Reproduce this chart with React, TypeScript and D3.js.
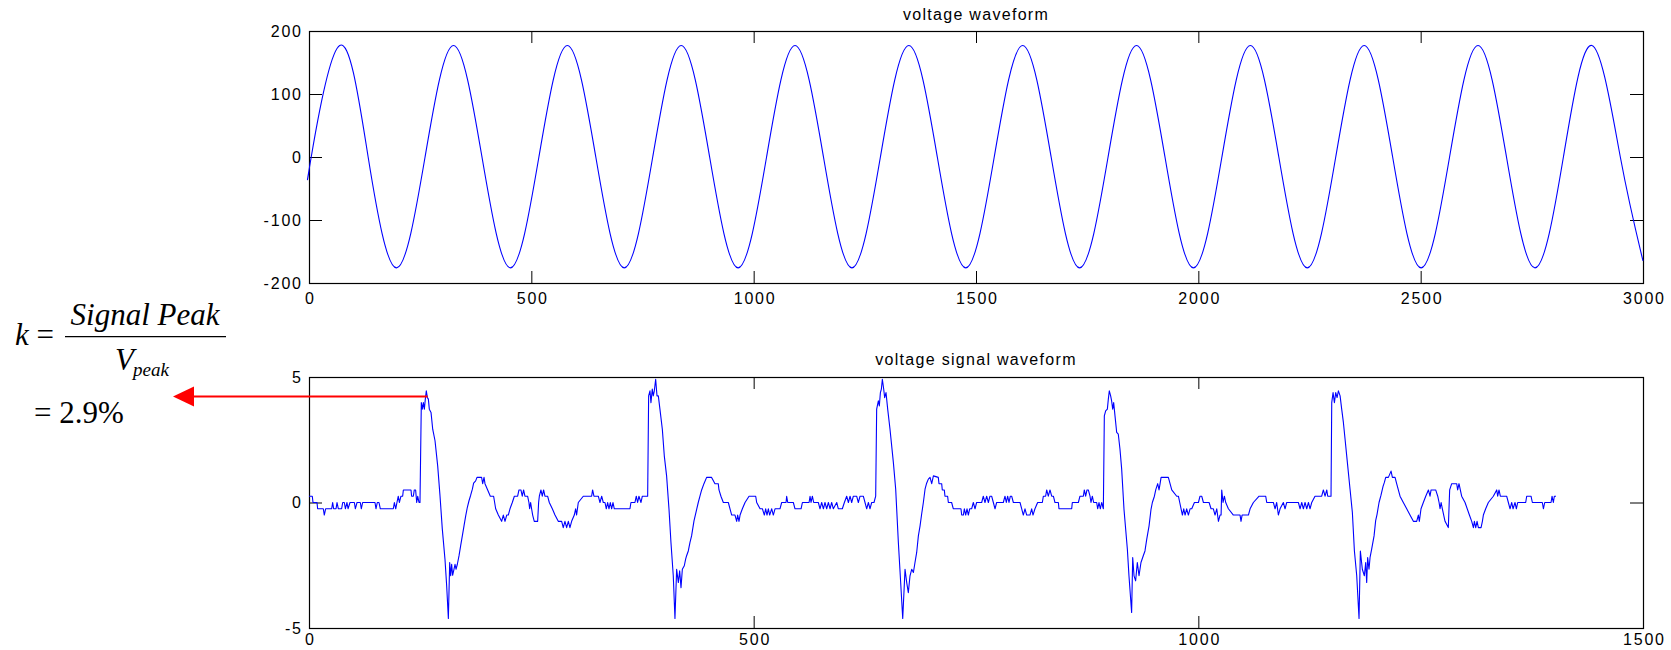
import { useEffect, useRef } from 'react';
import * as d3 from 'd3';

// top panel: mains voltage, read at the crests / zero crossings / troughs
const voltT = [0, 5, 69, 133, 197, 261, 325, 389, 453, 517, 581, 645, 709, 773, 837, 901, 965, 1029,
  1093, 1157, 1221, 1285, 1349, 1413, 1477, 1541, 1605, 1669, 1733, 1797, 1861, 1925, 1989, 2053,
  2117, 2181, 2245, 2309, 2373, 2437, 2501, 2565, 2629, 2693, 2757, 2821, 2885, 2949, 3000];
const voltV = [-23, 0, 177, 0, -176, 0, 177, 0, -176, 0, 177, 0, -176, 0, 177, 0, -176, 0,
  177, 0, -176, 0, 177, 0, -176, 0, 177, 0, -176, 0, 177, 0, -176, 0,
  177, 0, -176, 0, 177, 0, -176, 0, 177, 0, -176, 0, 177, 0, -165];
const voltXTicks = [0, 500, 1000, 1500, 2000, 2500, 3000];
const voltYTicks = [-200, -100, 0, 100, 200];

// bottom panel: quantised signal from the sensor
const sigT = [
  0, 3.7, 4.5, 9.0, 9.7, 16.1, 17.2, 18.7, 25.5, 26.6, 27.7, 30.4, 31.5, 33.0, 36.7, 37.9, 39.7, 40.9,
  42.7, 43.9, 46.1, 51.0, 52.1, 54.0, 57.7, 58.8, 60.3, 74.2, 75.3, 76.8, 78.7, 80.2, 94.8, 96.0,
  97.5, 98.9, 100.4, 101.6, 103.4, 105.3, 106.1, 114.7, 115.4, 117.3, 118.4, 119.9, 121.1, 122.2,
  123.7, 124.8, 126.3, 127.4, 128.6, 129.7, 130.8, 131.9, 133.1, 134.2, 135.3, 137.2, 139.1, 141.7,
  144.7, 147.3, 149.9, 152.9, 154.8, 156.7, 158.2, 159.3, 160.4, 161.5, 163.0, 164.2, 165.3, 166.8,
  168.7, 170.5, 172.4, 174.3, 176.2, 178.0, 179.9, 181.8, 183.7, 185.1, 187.4, 188.9, 194.1, 195.3,
  196.8, 197.9, 200.9, 203.9, 207.6, 209.9, 212.9, 216.6, 218.5, 220.4, 222.3, 224.1, 226.0, 228.6,
  230.9,
  234.6, 236.1, 238.3, 239.8, 241.3, 242.8, 245.8, 247.3, 248.1, 249.2, 250.3, 251.5, 253.3, 257.1,
  258.2, 259.0, 260.8, 262.3, 263.8, 265.3, 268.3, 270.2, 273.6, 276.6, 280.3, 284.1, 285.9, 287.8,
  289.7, 291.6, 293.4, 295.3, 298.3, 299.8, 300.9, 302.8, 308.4, 317.8, 318.9, 320.4, 325.3, 327.2,
  329.1, 330.9, 332.8, 334.3, 335.8, 337.3, 338.8, 340.3, 341.8, 343.3, 360.9, 362.0, 366.5, 368.0,
  369.5, 371.0, 373.3, 374.8, 380.8, 381.9, 383.4, 384.5, 386.0, 387.1, 388.3, 389.8, 391.3, 392.8,
  394.6, 397.3, 399.5, 402.1, 404.8, 407.0, 409.6, 411.5, 413.4, 415.3, 416.8, 418.3, 419.8, 422.0,
  423.5, 424.6, 426.5, 428.4, 430.2, 432.9, 435.9, 437.7, 439.6, 441.5, 444.1, 447.1, 452.7, 456.5,
  460.2, 461.0, 463.2, 465.9,
  471.5, 473.4, 475.3, 479.0, 480.9, 482.0, 483.5, 484.7, 487.3, 490.3, 494.8, 502.3, 503.4, 507.2,
  509.8, 512.0, 513.5, 515.0, 516.5, 518.0, 520.3, 522.1, 524.0, 529.6, 531.5, 536.4, 537.1, 538.3,
  544.6, 546.5, 553.3, 554.8, 562.3, 563.4, 564.5, 566.0, 567.5, 572.7, 574.6, 576.5, 578.4, 580.2,
  582.1, 584.0, 585.9, 587.7, 589.6, 593.4, 595.2, 599.7, 602.0, 604.6, 606.5, 608.4, 610.2, 612.1,
  615.8, 617.7, 619.6, 623.3, 625.2, 627.1, 629.0, 630.8, 632.7, 635.3, 637.2, 638.3, 640.2, 641.3,
  642.5, 643.6, 644.7, 646.2, 647.3, 648.8, 650.7, 653.3, 657.1, 659.7, 662.7, 665.3, 667.6, 670.2,
  672.1, 673.9, 675.8, 677.7, 679.6, 681.4, 683.3, 685.2, 687.1, 688.9, 690.8, 692.7, 694.5, 696.4,
  698.3, 700.2, 702.1,
  707.6, 708.4, 711.4, 712.1, 714.4, 715.1, 718.1, 718.9, 722.6, 724.5, 733.1, 733.9, 735.8, 736.9,
  738.4, 739.9, 741.4, 742.9, 745.1, 747.0, 748.9, 750.7, 756.4, 758.2, 760.1, 762.0, 763.9, 765.7,
  767.6, 769.5, 771.4, 773.2, 780.7, 782.6, 784.1, 785.6, 787.1, 788.6, 790.1, 792.0, 799.5, 801.4,
  803.2, 805.1, 807.0, 810.7, 812.6, 814.1, 816.3, 819.3, 824.6, 825.7, 828.3, 829.5, 831.3, 833.2,
  835.1, 837.0, 838.8, 842.6, 843.3, 857.6, 858.3, 865.1, 866.9, 870.7, 871.8, 873.3, 874.8, 876.3,
  878.2, 879.3, 880.8, 882.3, 885.7, 886.8, 888.3, 889.8, 891.3, 893.2, 894.3, 895.8, 897.7, 898.8,
  899.9, 901.4, 902.5, 903.7, 904.8, 906.3, 908.2, 910.0, 911.9, 913.8, 916.4, 920.2, 922.0, 925.0,
  926.2, 927.7, 929.5, 931.4, 933.3, 935.5, 938.1, 940.0,
  942.0, 944.6, 946.8, 948.3, 950.6, 952.1, 954.3, 955.8, 957.0, 958.1, 966.3, 968.2, 970.1, 975.7,
  977.6, 979.1, 980.6, 982.1, 983.6, 985.1, 986.9, 988.8, 990.7, 992.6, 995.6, 1000.1, 1001.9, 1003.8,
  1005.7, 1012.1, 1014.3, 1016.9, 1018.8, 1020.7, 1022.6, 1024.4, 1025.6, 1026.3, 1027.8, 1029.3,
  1030.8, 1033.8, 1039.4, 1046.9, 1048.0, 1049.2, 1056.3, 1058.2, 1061.9, 1068.3, 1075.8, 1076.9,
  1084.4, 1086.3, 1088.1, 1090.0, 1091.9, 1095.6, 1097.5, 1099.4, 1112.5, 1114.4, 1116.3, 1118.1,
  1120.0, 1121.9, 1123.8, 1125.6, 1127.5, 1131.2, 1138.7, 1140.6, 1142.5, 1144.4, 1145.5, 1149.2,
  1150.0, 1151.5, 1153.0, 1154.5, 1156.0, 1157.5, 1159.4, 1161.2, 1163.1, 1165.0, 1167.6, 1170.6,
  1173.2, 1175.5,
  1178.1, 1180.7, 1182.2, 1184.4, 1186.7, 1188.2, 1189.3, 1190.4, 1191.9, 1193.1, 1194.9, 1197.6,
  1199.4, 1200.9, 1203.2, 1205.4, 1207.7, 1209.2, 1210.7, 1213.7, 1216.7, 1218.2, 1221.2, 1223.0,
  1226.8, 1230.5, 1234.3, 1238.0, 1241.8, 1245.5, 1247.4, 1248.5, 1250.4, 1253.0, 1255.7, 1258.7,
  1260.5, 1261.7, 1266.9, 1269.2, 1270.7, 1271.8, 1273.0, 1274.4, 1277.4, 1281.1, 1282.6, 1284.9,
  1290.5, 1291.6, 1293.1, 1296.1, 1299.9, 1304.8, 1307.4, 1309.3, 1310.4, 1311.9, 1313.4, 1314.9,
  1317.9, 1319.4, 1320.5, 1323.1, 1326.1, 1331.7, 1335.5, 1336.6, 1338.1, 1339.6, 1346.7, 1348.6,
  1350.5, 1352.4, 1353.9, 1356.1, 1357.6, 1359.1, 1368.1, 1369.2, 1374.1, 1375.6, 1386.8, 1388.0,
  1389.5, 1396.6, 1397.7, 1399.2, 1400.3, 1402.2,
];
const sigV = [
  0.25, 0.25, 0, 0, -0.25, -0.25, -0.5, -0.25, -0.25, 0, -0.25, -0.25, 0, -0.25, -0.25, 0, 0, -0.25,
  0, -0.25, 0, 0, -0.25, 0, 0, -0.25, 0, 0, -0.25, 0, 0, -0.25, -0.25, 0,
  -0.25, 0, 0.25, 0, 0.25, 0.25, 0.5, 0.5, 0.25, 0.25, 0.5, 0.5, 0, 0.25,
  0, 0, 3.98, 3.72, 3.98, 3.72, 4.12, 4.45, 4.18, 4.12, 3.72, 3.59, 2.92, 2.46,
  1.46, 0.27, -1.06, -2.26, -3.32, -4.62, -2.39, -2.92, -2.46, -2.9, -2.66, -2.46, -2.66, -2.46,
  -2.12, -1.73, -1.33, -0.93, -0.53, -0.2, 0.07, 0.29, 0.53, 0.77, 0.86, 1.0, 1.0, 0.75,
  1.0, 0.75, 0.5, 0.25, 0.25, -0.25, -0.5, -0.75, -0.5, -0.75, -0.5, -0.5, -0.25, 0,
  0.25,
  0.25, 0.5, 0.5, 0.25, 0.5, 0.25, 0.25, 0, -0.25, 0, -0.25, -0.5, -0.75, -0.75,
  0, 0.25, 0.5, 0.25, 0.5, 0.25, 0.25, 0, -0.25, -0.5, -0.75, -0.75, -1.0, -0.75,
  -1.0, -0.75, -1.0, -0.75, -0.5, -0.25, -0.5, 0, 0.25, 0.25, 0.5, 0.25, 0.25, 0,
  0.25, 0, 0, -0.25, 0, -0.25, 0, -0.25, 0, -0.25, -0.25, 0, 0, 0.25,
  0, 0.25, 0, 0.25, 0.25, 4.25, 4.45, 3.98, 4.52, 4.25, 4.45, 4.91, 4.25, 4.25,
  3.72, 2.92, 1.86, 1.06, -0.27, -1.59, -2.92, -4.62, -2.66, -3.19, -2.72, -3.39, -2.66, -2.52,
  -2.26, -2.12, -1.93, -1.59, -1.33, -0.73, -0.27, 0, 0.25, 0.5, 0.75, 1.0, 1.0, 0.75,
  0.75, 0.5, 0.25, 0,
  0, -0.25, -0.5, -0.5, -0.75, -0.5, -0.75, -0.5, -0.25, 0, 0.25, 0.25, 0, -0.25,
  -0.25, -0.5, -0.25, -0.5, -0.25, -0.5, -0.25, -0.5, -0.25, -0.25, 0, 0, 0.25, 0,
  0, -0.25, -0.25, 0, 0, 0.25, 0, 0.25, 0, 0, -0.25, 0, -0.25, 0,
  -0.25, 0, -0.25, 0, -0.25, 0, -0.25, -0.25, 0, 0.25, 0, 0.25, 0, 0.25,
  0.25, 0, 0.25, 0.25, 0, -0.25, 0, -0.25, 0, 0, 0.25, 3.72, 4.05, 3.85,
  4.38, 4.52, 4.91, 4.52, 4.18, 4.38, 3.72, 2.92, 1.59, 0.53, -1.59, -3.19, -4.62, -2.66,
  -3.19, -3.59, -2.92, -2.66, -2.79, -2.39, -1.99, -1.33, -0.93, -0.46, 0, 0.53, 0.77, 0.93,
  1.0, 0.75, 1.06,
  1.0, 0.75, 0.75, 0.5, 0.5, 0.25, 0.25, 0, 0, -0.25, -0.25, -0.5, -0.5, -0.25,
  -0.5, -0.25, -0.5, -0.25, -0.25, 0, -0.25, 0, 0, 0.25, 0, 0.25, 0, 0.25,
  0.25, 0, -0.25, 0, 0, 0.25, 0, 0.25, 0, 0.25, 0.25, 0, 0, -0.25,
  -0.5, -0.25, -0.5, -0.5, -0.25, -0.5, -0.25, 0, 0, 0.25, 0.25, 0.5, 0.25, 0.5,
  0.25, 0.25, 0, 0, -0.25, -0.25, 0, 0, 0.25, 0.25, 0.5, 0.25, 0.5, 0.5,
  0.25, 0, 0.25, 0, 0, -0.25, 0, -0.25, 0, -0.25, 3.45, 3.65, 3.72, 4.12,
  4.45, 4.25, 4.05, 3.72, 3.98, 3.45, 2.79, 2.72, 2.12, 1.33, -0.27, -1.86, -2.92, -4.38,
  -2.19, -2.92, -3.12, -2.39, -2.92, -2.39, -2.12, -1.93,
  -1.46, -0.93, -0.27, 0, 0.25, 0.5, 0.75, 0.5, 0.75, 1.0, 1.0, 0.75, 0.5, 0.25,
  0.25, 0, -0.25, -0.5, -0.25, -0.5, -0.25, -0.5, -0.25, -0.25, 0, 0, 0.25, 0.25,
  0, 0, -0.25, -0.25, -0.5, -0.25, -0.75, -0.5, -0.5, 0.5, 0, 0.25,
  0, -0.25, -0.5, -0.5, -0.75, -0.5, -0.5, -0.25, 0, 0.25, 0.25, 0,
  0, -0.25, 0, -0.5, -0.25, 0, -0.25, 0, 0, -0.25, 0, -0.25,
  0, -0.25, 0, -0.25, 0, 0.25, 0.25, 0.5, 0.25, 0.5, 0.25, 0.25,
  3.98, 4.38, 3.98, 4.38, 4.18, 4.45, 4.25, 3.72, 3.19, 2.52, 1.59, 0.53,
  -0.4, -1.93,
  -2.92, -4.62, -1.93, -2.66, -2.92, -2.39, -3.19, -2.19, -2.66, -2.19, -1.86, -1.33,
  -0.72, -0.48, 0, 0.29, 0.64, 0.8, 1.0, 1.0, 1.25, 1.0, 1.0, 0.75,
  0.25, 0, -0.25, -0.5, -0.75, -0.75, -0.5, -0.75, -0.25, 0, 0.25, 0.5,
  0.25, 0.5, 0.5, 0.25, 0, -0.25, 0, -0.25, -0.75, -1.0, 0.5, 0.75,
  0.75, 0.5, 0.75, 0.25, 0, -0.5, -0.75, -1.0, -0.75, -1.0, -0.75, -1.0,
  -1.0, -0.75, -0.5, -0.25, 0, 0.25, 0.5, 0.25, 0.5, 0.25, 0.25, 0,
  -0.25, 0, -0.25, 0, -0.25, 0, 0, 0.25, 0.25, 0, 0, -0.25,
  0, 0, 0.25, 0, 0.25, 0.25,
];
const sigXTicks = [0, 500, 1000, 1500];
const sigYTicks = [-5, 0, 5];

// annotated peak of the first pulse (red arrow)
const peakT = 133.4;
const peakV = 4.22;

const SANS = '"Liberation Sans", Arial, Helvetica, sans-serif';
const SERIF = '"Liberation Serif", "Times New Roman", serif';
const LS = 1.8;

function drawPanel(root, cfg) {
  const { box, xDomain, yDomain, xTicks, yTicks, title, titleY, t, v, curve, xPad } = cfg;
  const x = d3.scaleLinear().domain(xDomain).range([box.left, box.right]);
  const y = d3.scaleLinear().domain(yDomain).range([box.bottom, box.top]);
  const g = root.append('g');
  const fmt = (d) => String(d);

  const styleAxis = (sel) => {
    sel.attr('font-size', 16).attr('font-family', SANS).attr('color', '#000');
    sel.select('.domain').remove();
    sel.selectAll('text').style('letter-spacing', `${LS}px`).attr('fill', '#000');
  };

  g.append('g')
    .attr('transform', `translate(0,${box.bottom})`)
    .call(d3.axisBottom(x).tickValues(xTicks).tickFormat(fmt).tickSize(-12).tickPadding(xPad))
    .call(styleAxis)
    .selectAll('text').attr('dx', `${LS / 2}px`);
  g.append('g')
    .attr('transform', `translate(0,${box.top})`)
    .call(d3.axisTop(x).tickValues(xTicks).tickSize(-12).tickFormat(() => ''))
    .call(styleAxis);
  g.append('g')
    .attr('transform', `translate(${box.left},0)`)
    .call(d3.axisLeft(y).tickValues(yTicks).tickFormat(fmt).tickSize(-13).tickPadding(8 - LS))
    .call(styleAxis);
  g.append('g')
    .attr('transform', `translate(${box.right},0)`)
    .call(d3.axisRight(y).tickValues(yTicks).tickSize(-13).tickFormat(() => ''))
    .call(styleAxis);

  g.append('rect')
    .attr('x', box.left + 0.5)
    .attr('y', box.top + 0.5)
    .attr('width', box.right - box.left)
    .attr('height', box.bottom - box.top)
    .attr('fill', 'none')
    .attr('stroke', '#000')
    .attr('stroke-width', 1.2);

  const line = d3.line()
    .x((d) => x(d[0]))
    .y((d) => y(d[1]))
    .curve(curve);
  g.append('path')
    .datum(d3.zip(t, v))
    .attr('d', line)
    .attr('fill', 'none')
    .attr('stroke', '#0000ff')
    .attr('stroke-width', 1.1)
    .attr('stroke-linejoin', 'round');

  g.append('text')
    .attr('x', (box.left + box.right) / 2)
    .attr('y', titleY)
    .attr('text-anchor', 'middle')
    .attr('font-family', SANS)
    .attr('font-size', 16)
    .style('letter-spacing', '1.3px')
    .text(title);

  return { x, y };
}

export default function App() {
  const svgRef = useRef(null);

  useEffect(() => {
    const svg = d3.select(svgRef.current);
    svg.selectAll('*').remove();

    drawPanel(svg, {
      box: { left: 309, right: 1643, top: 31, bottom: 283 },
      xDomain: [0, 3000],
      yDomain: [-200, 200],
      xTicks: voltXTicks,
      yTicks: voltYTicks,
      title: 'voltage waveform',
      titleY: 19.5,
      t: voltT,
      v: voltV,
      curve: d3.curveNatural,
      xPad: 10,
    });

    const sig = drawPanel(svg, {
      box: { left: 309, right: 1643, top: 377, bottom: 628 },
      xDomain: [0, 1500],
      yDomain: [-5, 5],
      xTicks: sigXTicks,
      yTicks: sigYTicks,
      title: 'voltage signal waveform',
      titleY: 365,
      t: sigT,
      v: sigV,
      curve: d3.curveLinear,
      xPad: 6,
    });

    // arrow from the first pulse peak out to the formula
    const ay = sig.y(peakV);
    const ax = sig.x(peakT);
    const tipX = 173;
    svg.append('line')
      .attr('x1', ax).attr('y1', ay)
      .attr('x2', tipX + 18).attr('y2', ay)
      .attr('stroke', '#ff0000')
      .attr('stroke-width', 2);
    svg.append('path')
      .attr('d', `M${tipX},${ay} L${tipX + 21},${ay - 10} L${tipX + 21},${ay + 10} Z`)
      .attr('fill', '#ff0000');

    // k = Signal Peak / V_peak = 2.9%
    const f = svg.append('g').attr('font-family', SERIF).attr('fill', '#000');
    const k = f.append('text').attr('x', 15).attr('y', 345).attr('font-size', 31);
    k.append('tspan').attr('font-style', 'italic').text('k');
    k.append('tspan').text(' =');
    f.append('text')
      .attr('x', 145).attr('y', 325)
      .attr('text-anchor', 'middle')
      .attr('font-size', 31)
      .attr('font-style', 'italic')
      .text('Signal Peak');
    f.append('line')
      .attr('x1', 65).attr('x2', 226)
      .attr('y1', 336.7).attr('y2', 336.7)
      .attr('stroke', '#000')
      .attr('stroke-width', 1.3);
    f.append('text')
      .attr('x', 115).attr('y', 370)
      .attr('font-size', 31)
      .attr('font-style', 'italic')
      .text('V');
    f.append('text')
      .attr('x', 133).attr('y', 376)
      .attr('font-size', 19)
      .attr('font-style', 'italic')
      .text('peak');
    f.append('text')
      .attr('x', 34).attr('y', 423)
      .attr('font-size', 31)
      .text('= 2.9%');
  }, []);

  return (
    <svg
      ref={svgRef}
      width={1671}
      height={650}
      style={{ position: 'absolute', left: 0, top: 0, display: 'block', background: '#fff' }}
    />
  );
}
